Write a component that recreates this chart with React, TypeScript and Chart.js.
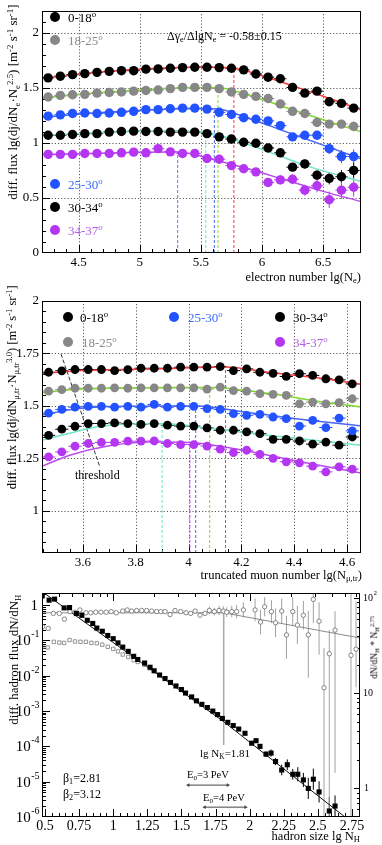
import React, { useEffect, useRef } from "react";
import { Chart, registerables } from "chart.js";

Chart.register(...registerables);

const SERIF = "'Liberation Serif', 'Times New Roman', serif";

// ---------------- Panel 1 : electron number ----------------
const neBins = [4.25, 4.35, 4.45, 4.55, 4.65, 4.75, 4.85, 4.95, 5.05, 5.15, 5.25, 5.35, 5.45, 5.55, 5.65, 5.75, 5.85, 5.95, 6.05, 6.15, 6.25, 6.35, 6.45, 6.55, 6.65, 6.75];
const neFlux0_18 = [1.591, 1.606, 1.62, 1.629, 1.641, 1.65, 1.656, 1.656, 1.67, 1.672, 1.678, 1.684, 1.687, 1.687, 1.684, 1.678, 1.663, 1.626, 1.597, 1.583, 1.504, 1.452, 1.47, 1.374, 1.359, 1.316];
const neFlux18_25 = [1.417, 1.432, 1.437, 1.441, 1.452, 1.458, 1.463, 1.47, 1.476, 1.481, 1.493, 1.504, 1.504, 1.504, 1.493, 1.463, 1.441, 1.423, 1.403, 1.354, 1.287, 1.267, 1.185, 1.171, 1.171, 1.15];
const neFlux25_30 = [1.243, 1.255, 1.267, 1.272, 1.267, 1.272, 1.278, 1.287, 1.302, 1.302, 1.31, 1.316, 1.316, 1.307, 1.278, 1.258, 1.229, 1.215, 1.2, 1.157, 1.055, 1.07, 1.07, 0.948, 0.876, 0.876];
const neFlux30_34 = [1.07, 1.07, 1.076, 1.084, 1.084, 1.098, 1.104, 1.107, 1.104, 1.104, 1.098, 1.098, 1.098, 1.084, 1.055, 1.035, 1.006, 0.997, 0.954, 0.91, 0.78, 0.809, 0.707, 0.678, 0.693, 0.75];
const neFlux34_37 = [0.896, 0.896, 0.896, 0.904, 0.904, 0.904, 0.91, 0.916, 0.91, 0.948, 0.919, 0.904, 0.904, 0.858, 0.852, 0.794, 0.765, 0.737, 0.641, 0.664, 0.67, 0.571, 0.611, 0.484, 0.571, 0.597];
const neErr0_18 = [0.008, 0.008, 0.008, 0.008, 0.008, 0.008, 0.008, 0.008, 0.008, 0.008, 0.008, 0.008, 0.008, 0.008, 0.008, 0.008, 0.01, 0.012, 0.014, 0.016, 0.02, 0.022, 0.025, 0.03, 0.032, 0.035];
const neErr18_25 = [0.008, 0.008, 0.008, 0.008, 0.008, 0.008, 0.008, 0.008, 0.008, 0.008, 0.008, 0.008, 0.008, 0.008, 0.008, 0.01, 0.012, 0.014, 0.016, 0.02, 0.024, 0.027, 0.03, 0.035, 0.04, 0.045];
const neErr25_30 = [0.008, 0.008, 0.008, 0.008, 0.008, 0.008, 0.008, 0.008, 0.008, 0.008, 0.008, 0.008, 0.008, 0.01, 0.012, 0.014, 0.016, 0.018, 0.02, 0.025, 0.03, 0.035, 0.04, 0.05, 0.06, 0.065];
const neErr30_34 = [0.008, 0.008, 0.008, 0.008, 0.008, 0.008, 0.008, 0.008, 0.008, 0.008, 0.008, 0.008, 0.01, 0.012, 0.014, 0.016, 0.018, 0.02, 0.025, 0.03, 0.035, 0.04, 0.045, 0.055, 0.06, 0.07];
const neErr34_37 = [0.008, 0.008, 0.008, 0.008, 0.008, 0.008, 0.008, 0.008, 0.01, 0.012, 0.012, 0.014, 0.016, 0.018, 0.02, 0.022, 0.025, 0.03, 0.035, 0.04, 0.045, 0.05, 0.06, 0.075, 0.08, 0.085];
// fit curves (knots)
const neFitX0_18 = [4.2, 4.5, 4.8, 5.2, 5.5, 5.77, 6.0, 6.3, 6.6, 6.81];
const neFitY0_18 = [1.585, 1.625, 1.655, 1.68, 1.69, 1.678, 1.61, 1.5, 1.385, 1.3];
const neFitX18_25 = [4.2, 4.6, 5.0, 5.4, 5.64, 5.9, 6.2, 6.5, 6.81];
const neFitY18_25 = [1.405, 1.45, 1.48, 1.5, 1.5, 1.43, 1.32, 1.21, 1.1];
const neFitX25_30 = [4.2, 4.6, 5.0, 5.4, 5.61, 5.9, 6.2, 6.5, 6.81];
const neFitY25_30 = [1.232, 1.27, 1.295, 1.31, 1.31, 1.22, 1.1, 0.98, 0.855];
const neFitX30_34 = [4.2, 4.6, 5.0, 5.3, 5.54, 5.8, 6.1, 6.4, 6.81];
const neFitY30_34 = [1.068, 1.09, 1.105, 1.11, 1.095, 1.02, 0.9, 0.78, 0.65];
const neFitX34_37 = [4.2, 4.6, 5.0, 5.31, 5.6, 5.9, 6.2, 6.5, 6.81];
const neFitY34_37 = [0.893, 0.903, 0.915, 0.918, 0.85, 0.76, 0.66, 0.56, 0.468];
const neKnee = [5.77, 5.64, 5.61, 5.54, 5.31];
const neKneeTop = [1.678, 1.504, 1.31, 1.095, 0.918];
const neXTicks = [4.5, 5, 5.5, 6, 6.5];
const neYTicks = [0, 0.5, 1, 1.5, 2];

// ---------------- Panel 2 : truncated muon number ----------------
const nmuBins = [3.47, 3.52, 3.57, 3.62, 3.67, 3.72, 3.77, 3.82, 3.87, 3.92, 3.97, 4.02, 4.07, 4.12, 4.17, 4.22, 4.27, 4.32, 4.37, 4.42, 4.47, 4.52, 4.57, 4.62];
const nmuFlux0_18 = [1.66, 1.667, 1.673, 1.673, 1.673, 1.668, 1.672, 1.679, 1.679, 1.679, 1.684, 1.684, 1.684, 1.687, 1.668, 1.676, 1.66, 1.655, 1.64, 1.653, 1.645, 1.629, 1.624, 1.605];
const nmuFlux18_25 = [1.57, 1.577, 1.584, 1.584, 1.584, 1.586, 1.584, 1.586, 1.586, 1.586, 1.586, 1.586, 1.58, 1.589, 1.573, 1.57, 1.558, 1.555, 1.55, 1.51, 1.518, 1.51, 1.515, 1.534];
const nmuFlux25_30 = [1.466, 1.483, 1.494, 1.498, 1.498, 1.494, 1.498, 1.494, 1.507, 1.494, 1.498, 1.498, 1.487, 1.483, 1.463, 1.455, 1.46, 1.447, 1.439, 1.404, 1.431, 1.397, 1.442, 1.381];
const nmuFlux30_34 = [1.36, 1.389, 1.403, 1.416, 1.416, 1.419, 1.416, 1.412, 1.416, 1.408, 1.404, 1.404, 1.395, 1.384, 1.384, 1.376, 1.368, 1.341, 1.341, 1.333, 1.318, 1.328, 1.313, 1.352];
const nmuFlux34_37 = [1.257, 1.281, 1.308, 1.321, 1.326, 1.326, 1.332, 1.332, 1.333, 1.321, 1.316, 1.316, 1.309, 1.294, 1.278, 1.289, 1.269, 1.25, 1.234, 1.229, 1.213, 1.186, 1.21, 1.199];
const nmuErr = [0.004, 0.004, 0.004, 0.004, 0.004, 0.004, 0.004, 0.004, 0.004, 0.004, 0.004, 0.004, 0.004, 0.005, 0.005, 0.005, 0.006, 0.006, 0.007, 0.008, 0.009, 0.01, 0.012, 0.014];
const nmuFitX0_18 = [3.44, 3.6, 3.9, 4.14, 4.3, 4.5, 4.655];
const nmuFitY0_18 = [1.653, 1.668, 1.677, 1.685, 1.66, 1.632, 1.603];
const nmuFitX18_25 = [3.44, 3.55, 3.7, 3.9, 4.08, 4.3, 4.5, 4.655];
const nmuFitY18_25 = [1.56, 1.577, 1.584, 1.587, 1.588, 1.56, 1.52, 1.494];
const nmuFitX25_30 = [3.44, 3.55, 3.7, 3.9, 4.03, 4.2, 4.4, 4.655];
const nmuFitY25_30 = [1.455, 1.482, 1.497, 1.5, 1.5, 1.473, 1.44, 1.405];
const nmuFitX30_34 = [3.44, 3.55, 3.65, 3.75, 3.9, 4.1, 4.3, 4.655];
const nmuFitY30_34 = [1.335, 1.37, 1.4, 1.413, 1.415, 1.39, 1.36, 1.313];
const nmuFitX34_37 = [3.44, 3.55, 3.7, 3.85, 4.005, 4.2, 4.4, 4.655];
const nmuFitY34_37 = [1.21, 1.265, 1.31, 1.328, 1.326, 1.29, 1.24, 1.18];
const nmuKnee = [4.14, 4.08, 4.027, 3.9, 4.005];
const nmuKneeTop = [1.685, 1.588, 1.5, 1.415, 1.326];
const thresholdX = [3.517, 3.664];
const thresholdY = [1.747, 1.21];
const nmuXTicks = [3.6, 3.8, 4, 4.2, 4.4, 4.6];
const nmuYTicks = [1, 1.25, 1.5, 1.75, 2];

// ---------------- Panel 3 : hadron size ----------------
const hadX = [0.48, 0.53, 0.57, 0.64, 0.68, 0.73, 0.77, 0.81, 0.85, 0.88, 0.92, 0.96, 1.0, 1.035, 1.07, 1.11, 1.15, 1.18, 1.23, 1.27, 1.3, 1.34, 1.38, 1.42, 1.46, 1.5, 1.53, 1.575, 1.61, 1.65, 1.69, 1.73, 1.765, 1.8, 1.84, 1.88, 1.92, 1.966, 2.015, 2.047, 2.076, 2.12, 2.157, 2.19, 2.235, 2.276, 2.316, 2.353, 2.394, 2.43, 2.467, 2.509, 2.584, 2.626];
const hadFluxLg = [0.26, 0.14, 0.17, -0.08, -0.07, -0.24, -0.29, -0.43, -0.52, -0.65, -0.74, -0.86, -0.95, -1.07, -1.19, -1.31, -1.45, -1.54, -1.64, -1.76, -1.86, -1.98, -2.08, -2.19, -2.29, -2.39, -2.49, -2.6, -2.71, -2.81, -2.9, -3.0, -3.1, -3.21, -3.32, -3.41, -3.51, -3.63, -3.91, -3.84, -4.0, -4.22, -4.19, -4.43, -4.67, -4.52, -4.79, -4.79, -4.95, -5.19, -4.93, -5.29, -5.83, -5.69];
const hadErrLg = [0.01, 0.01, 0.01, 0.01, 0.01, 0.01, 0.01, 0.01, 0.01, 0.01, 0.01, 0.01, 0.01, 0.01, 0.01, 0.01, 0.01, 0.01, 0.01, 0.01, 0.01, 0.01, 0.01, 0.01, 0.01, 0.01, 0.01, 0.01, 0.01, 0.01, 0.01, 0.01, 0.01, 0.03, 0.03, 0.03, 0.03, 0.04, 0.06, 0.06, 0.07, 0.08, 0.1, 0.1, 0.15, 0.15, 0.15, 0.2, 0.2, 0.3, 0.3, 0.3, 0.4, 0.3];
const openSqX = [0.48, 0.52, 0.565, 0.605, 0.64, 0.68, 0.72, 0.76, 0.8, 0.84, 0.88, 0.92, 0.96, 1.0, 1.035, 1.07, 1.11, 1.15, 1.18, 1.23, 1.27];
const openSqLg = [-1.19, -1.2, -1.04, -1.06, -1.07, -0.99, -1.03, -1.04, -1.04, -1.07, -1.08, -1.12, -1.18, -1.24, -1.31, -1.4, -1.47, -1.56, -1.61, -1.69, -1.79];
const circX = [0.483, 0.524, 0.561, 0.605, 0.642, 0.683, 0.72, 0.756, 0.8, 0.835, 0.872, 0.91, 0.948, 0.985, 1.022, 1.07, 1.103, 1.135, 1.172, 1.209, 1.245, 1.282, 1.319, 1.349, 1.38, 1.417, 1.453, 1.495, 1.534, 1.568, 1.6, 1.636, 1.673, 1.705, 1.741, 1.776, 1.807, 1.832, 1.869, 1.905, 1.954, 2.04, 2.08, 2.11, 2.16, 2.19, 2.235, 2.27, 2.316, 2.35, 2.394, 2.43, 2.467, 2.509, 2.545, 2.584, 2.626, 2.743, 2.78];
const circVal = [50, 48, 69, 69, 60, 72, 71, 75, 70, 70, 71, 71, 71, 72, 70, 73, 75, 73, 74, 74, 74, 73, 72, 72, 72, 67, 74, 72, 70, 69, 73, 66, 69, 74, 72, 74, 73, 71, 72, 72, 75, 75, 56, 81, 72, 55, 73, 41, 72, 52, 66, 41, 97, 57, 11.4, 26, 46, 25, 29];
const circUpLg = [0.01, 0.01, 0.01, 0.01, 0.01, 0.01, 0.01, 0.01, 0.01, 0.01, 0.01, 0.01, 0.01, 0.01, 0.01, 0.01, 0.01, 0.01, 0.01, 0.01, 0.01, 0.01, 0.01, 0.01, 0.01, 0.02, 0.02, 0.02, 0.02, 0.02, 0.02, 0.02, 0.02, 0.04, 0.04, 0.05, 0.05, 0.05, 0.06, 0.07, 0.08, 0.12, 0.13, 0.1, 0.12, 0.15, 0.13, 0.2, 0.15, 0.2, 0.15, 0.25, 0.2, 0.2, 0.42, 0.25, 0.2, 0.7, 0.5];
const circDnLg = [0.01, 0.01, 0.01, 0.01, 0.01, 0.01, 0.01, 0.01, 0.01, 0.01, 0.01, 0.01, 0.01, 0.01, 0.01, 0.01, 0.01, 0.01, 0.01, 0.01, 0.01, 0.01, 0.01, 0.01, 0.01, 0.02, 0.02, 0.02, 0.02, 0.02, 0.02, 0.02, 0.02, 0.04, 0.04, 0.05, 0.05, 0.05, 0.06, 0.07, 0.08, 0.12, 0.13, 0.1, 0.12, 0.15, 0.13, 0.25, 0.15, 0.2, 0.15, 0.45, 0.25, 0.35, 3, 3, 1.5, 3, 0.4];
const hadFitX = [0.45, 1.81, 2.75];
const hadFitY = [2.9, 5.0e-4, 7.0e-7];
const circFitX = [0.48, 1.81, 2.81];
const circFitY = [70, 70, 38];
const kneeLineX = [1.81, 1.81];
const kneeLineY = [0.6, 1.1e-4];
const e03ArrowX = [1.55, 1.84];
const e03ArrowY = [8e-6, 8e-6];
const e04ArrowX = [1.67, 1.97];
const e04ArrowY = [1.9e-6, 1.9e-6];
const hadXTicks = [0.5, 0.75, 1, 1.25, 1.5, 1.75, 2, 2.25, 2.5, 2.75];
const hadDecades = [-6, -5, -4, -3, -2, -1, 0];
const circDecades = [0, 1, 2];
const topAxisN = [3, 4, 5, 6, 7, 8, 9, 10, 20, 30, 40, 50, 60, 70, 80, 90, 100, 200, 300, 400, 500, 600];

// ---------------- helpers ----------------
function range(a: number, b: number, step: number) {
  const out: number[] = [];
  for (let v = a; v <= b + 1e-9; v += step) out.push(+v.toFixed(4));
  return out;
}
function logMinor(d0: number, d1: number) {
  const out: number[] = [];
  for (let d = d0; d <= d1; d++) for (let m = 1; m < 10; m++) out.push(m * Math.pow(10, d));
  return out;
}
const xy = (xs: number[], ys: number[]) => xs.map((x, i) => ({ x, y: ys[i] }));

function pointSet(xs: number[], ys: number[], errs: number[], color: string, radius: number, errX: number) {
  return {
    data: xy(xs, ys),
    backgroundColor: color,
    borderColor: color,
    borderWidth: 0,
    pointRadius: radius,
    showLine: false,
    errLo: ys.map((v, i) => v - errs[i]),
    errHi: ys.map((v, i) => v + errs[i]),
    errX,
  };
}
function curve(xs: number[], ys: number[], color: string, width = 1.5, dash: number[] = [], smooth = true, extra: any = {}) {
  return {
    data: xy(xs, ys),
    showLine: true,
    borderColor: color,
    backgroundColor: color,
    borderWidth: width,
    borderDash: dash,
    pointRadius: 0,
    fill: false,
    cubicInterpolationMode: smooth ? "monotone" : "default",
    tension: 0,
    ...extra,
  };
}

const errorBars = {
  id: "errorBars",
  beforeDatasetsDraw(chart: any) {
    const { ctx, chartArea: a } = chart;
    ctx.save();
    ctx.beginPath();
    ctx.rect(a.left, a.top, a.right - a.left, a.bottom - a.top);
    ctx.clip();
    chart.data.datasets.forEach((ds: any, i: number) => {
      if (!ds.errLo && !ds.errX) return;
      const meta = chart.getDatasetMeta(i);
      const X = chart.scales[meta.xAxisID];
      const Y = chart.scales[meta.yAxisID];
      ctx.strokeStyle = ds.errColor || ds.backgroundColor;
      ctx.lineWidth = ds.errWidth || 1;
      ds.data.forEach((p: any, j: number) => {
        const px = X.getPixelForValue(p.x);
        const py = Y.getPixelForValue(p.y);
        ctx.beginPath();
        if (ds.errLo) {
          ctx.moveTo(px, Y.getPixelForValue(ds.errLo[j]));
          ctx.lineTo(px, Y.getPixelForValue(ds.errHi[j]));
        }
        if (ds.errX) {
          ctx.moveTo(X.getPixelForValue(p.x - ds.errX), py);
          ctx.lineTo(X.getPixelForValue(p.x + ds.errX), py);
        }
        ctx.stroke();
      });
    });
    ctx.restore();
  },
};

function makeFrame(cfg: any) {
  return {
    id: "frame",
    beforeDatasetsDraw(chart: any) {
      const { ctx, chartArea: a, scales } = chart;
      const X = scales.x;
      const Y = scales.y;
      ctx.save();
      ctx.beginPath();
      ctx.rect(a.left, a.top, a.right - a.left, a.bottom - a.top);
      ctx.clip();
      if (cfg.grid) {
        ctx.strokeStyle = "#333";
        ctx.lineWidth = 0.8;
        ctx.setLineDash([1.2, 2]);
        cfg.xMajor.forEach((v: number) => {
          const p = Math.round(X.getPixelForValue(v)) + 0.5;
          ctx.beginPath(); ctx.moveTo(p, a.top); ctx.lineTo(p, a.bottom); ctx.stroke();
        });
        cfg.yMajor.forEach((v: number) => {
          const p = Math.round(Y.getPixelForValue(v)) + 0.5;
          ctx.beginPath(); ctx.moveTo(a.left, p); ctx.lineTo(a.right, p); ctx.stroke();
        });
        ctx.setLineDash([]);
      }
      ctx.strokeStyle = "#000";
      ctx.lineWidth = 1;
      const hx = (vals: number[], len: number, top: boolean, scale: any) => {
        vals.forEach((v) => {
          const p = scale.getPixelForValue(v);
          if (p < a.left - 0.5 || p > a.right + 0.5) return;
          const q = Math.round(p) + 0.5;
          ctx.beginPath();
          if (top) { ctx.moveTo(q, a.top); ctx.lineTo(q, a.top + len); }
          else { ctx.moveTo(q, a.bottom); ctx.lineTo(q, a.bottom - len); }
          ctx.stroke();
        });
      };
      const vy = (vals: number[], len: number, right: boolean, scale: any) => {
        vals.forEach((v) => {
          const p = scale.getPixelForValue(v);
          if (p < a.top - 0.5 || p > a.bottom + 0.5) return;
          const q = Math.round(p) + 0.5;
          ctx.beginPath();
          if (right) { ctx.moveTo(a.right, q); ctx.lineTo(a.right - len, q); }
          else { ctx.moveTo(a.left, q); ctx.lineTo(a.left + len, q); }
          ctx.stroke();
        });
      };
      hx(cfg.xMajor, cfg.major, false, X);
      hx(cfg.xMinor, cfg.minor, false, X);
      vy(cfg.yMajor, cfg.major, false, Y);
      vy(cfg.yMinor, cfg.minor, false, Y);
      if (cfg.y2Major) {
        vy(cfg.y2Major, cfg.y2major, true, scales.y2);
        vy(cfg.y2Minor, cfg.y2minor, true, scales.y2);
      }
      if (cfg.xTopMajor) {
        hx(cfg.xTopMajor, cfg.major, true, X);
        hx(cfg.xTopMinor, cfg.minor, true, X);
      }
      ctx.restore();
    },
    afterDatasetsDraw(chart: any) {
      const { ctx, chartArea: a } = chart;
      ctx.save();
      ctx.strokeStyle = "#000";
      ctx.lineWidth = 1;
      ctx.strokeRect(Math.round(a.left) + 0.5, Math.round(a.top) + 0.5, Math.round(a.right - a.left) - 1, Math.round(a.bottom - a.top) - 1);
      ctx.restore();
    },
  };
}

function linAxis(min: number, max: number, ticks: number[], fit: (s: any) => void, size = 13, padding = 3) {
  return {
    type: "linear",
    min,
    max,
    grid: { display: false, drawTicks: false },
    border: { display: false },
    afterBuildTicks: (s: any) => {
      s.ticks = ticks.map((v) => ({ value: v }));
    },
    afterFit: fit,
    ticks: {
      font: { family: SERIF, size },
      color: "#000",
      padding,
      autoSkip: false,
      maxRotation: 0,
      callback: (v: any) => String(v),
    },
  };
}

const baseOpts = (padding: any) => ({
  responsive: false,
  animation: false,
  events: [],
  layout: { padding },
  plugins: { legend: { display: false }, tooltip: { enabled: false } },
});

// ---------------- colours ----------------
const C_BLACK = "#000000";
const C_GRAY = "#878787";
const C_BLUE = "#2352ff";
const C_MAG = "#b536f0";
const L_RED = "#ff3b3b";
const L_GREEN = "#7ddc2c";
const L_BLUE = "#4a66f5";
const L_CYAN = "#6fe3c9";
const L_MAG = "#b84aee";

function config1(): any {
  const pts = [
    pointSet(neBins, neFlux0_18, neErr0_18, C_BLACK, 4.7, 0.05),
    pointSet(neBins, neFlux18_25, neErr18_25, C_GRAY, 4.7, 0.05),
    pointSet(neBins, neFlux25_30, neErr25_30, C_BLUE, 4.7, 0.05),
    pointSet(neBins, neFlux30_34, neErr30_34, C_BLACK, 4.7, 0.05),
    pointSet(neBins, neFlux34_37, neErr34_37, C_MAG, 4.7, 0.05),
  ];
  const fits = [
    curve(neFitX0_18, neFitY0_18, L_RED),
    curve(neFitX18_25, neFitY18_25, L_GREEN),
    curve(neFitX25_30, neFitY25_30, L_BLUE),
    curve(neFitX30_34, neFitY30_34, L_CYAN),
    curve(neFitX34_37, neFitY34_37, L_MAG),
  ];
  const kneeCols = [L_RED, L_GREEN, L_BLUE, L_CYAN, L_MAG];
  const knees = neKnee.map((k, i) => curve([k, k], [0, neKneeTop[i]], kneeCols[i], 1, [3, 2], false));
  return {
    type: "scatter",
    data: { datasets: [...pts, ...fits, ...knees] },
    options: {
      ...baseOpts({ top: 1, right: 21, left: 0, bottom: 0 }),
      scales: {
        x: linAxis(4.2, 6.81, neXTicks, (s: any) => { s.height = 37; }, 13, 2),
        y: linAxis(0, 2.2, neYTicks, (s: any) => { s.width = 42; }, 13, 3),
      },
    },
    plugins: [
      errorBars,
      makeFrame({ grid: true, xMajor: neXTicks, xMinor: range(4.2, 6.8, 0.1), yMajor: neYTicks, yMinor: range(0, 2.2, 0.1), major: 8, minor: 4 }),
    ],
  };
}

function config2(): any {
  const pts = [
    pointSet(nmuBins, nmuFlux0_18, nmuErr, C_BLACK, 4.4, 0.025),
    pointSet(nmuBins, nmuFlux18_25, nmuErr, C_GRAY, 4.4, 0.025),
    pointSet(nmuBins, nmuFlux25_30, nmuErr, C_BLUE, 4.4, 0.025),
    pointSet(nmuBins, nmuFlux30_34, nmuErr, C_BLACK, 4.4, 0.025),
    pointSet(nmuBins, nmuFlux34_37, nmuErr, C_MAG, 4.4, 0.025),
  ];
  const fits = [
    curve(nmuFitX0_18, nmuFitY0_18, L_RED),
    curve(nmuFitX18_25, nmuFitY18_25, L_GREEN),
    curve(nmuFitX25_30, nmuFitY25_30, L_BLUE),
    curve(nmuFitX30_34, nmuFitY30_34, L_CYAN),
    curve(nmuFitX34_37, nmuFitY34_37, L_MAG),
  ];
  const kneeCols = [L_RED, L_GREEN, L_BLUE, L_CYAN, L_MAG];
  const knees = nmuKnee.map((k, i) => curve([k, k], [0.8, nmuKneeTop[i]], kneeCols[i], 1, [3, 2], false));
  const thr = curve(thresholdX, thresholdY, "#333", 1, [4, 2], false);
  return {
    type: "scatter",
    data: { datasets: [...pts, ...fits, ...knees, thr] },
    options: {
      ...baseOpts({ top: 10, right: 21, left: 0, bottom: 0 }),
      scales: {
        x: linAxis(3.445, 4.653, nmuXTicks, (s: any) => { s.height = 27; }, 13, 2),
        y: linAxis(0.8, 2.0, nmuYTicks, (s: any) => { s.width = 42; }, 13, 3),
      },
    },
    plugins: [
      errorBars,
      makeFrame({ grid: true, xMajor: nmuXTicks, xMinor: range(3.45, 4.65, 0.05), yMajor: nmuYTicks, yMinor: range(0.8, 2.0, 0.05), major: 8, minor: 4 }),
    ],
  };
}

function drawPow(ctx: any, base: string, sup: string, xr: number, y: number, bs: number, ss: number, align: string) {
  ctx.font = `${bs}px ${SERIF}`;
  const wb = ctx.measureText(base).width;
  ctx.font = `${ss}px ${SERIF}`;
  const ws = sup ? ctx.measureText(sup).width : 0;
  const x0 = align === "right" ? xr - wb - ws : xr;
  ctx.textAlign = "left";
  ctx.textBaseline = "middle";
  ctx.font = `${bs}px ${SERIF}`;
  ctx.fillText(base, x0, y);
  if (sup) {
    ctx.font = `${ss}px ${SERIF}`;
    ctx.fillText(sup, x0 + wb + 0.5, y - bs * 0.45);
  }
}

const logLabels = {
  id: "logLabels",
  afterDraw(chart: any) {
    const { ctx } = chart;
    const Y = chart.scales.y;
    const Y2 = chart.scales.y2;
    ctx.save();
    ctx.fillStyle = "#000";
    hadDecades.forEach((d) => {
      const py = Y.getPixelForValue(Math.pow(10, d));
      if (d === 0) drawPow(ctx, "1", "", 38, py + 1, 15, 10, "right");
      else drawPow(ctx, "10", String(d), 39, py + 1, 15, 10, "right");
    });
    circDecades.forEach((d) => {
      const py = Y2.getPixelForValue(Math.pow(10, d));
      if (d === 0) drawPow(ctx, "1", "", 364, py, 10, 7, "left");
      else if (d === 1) drawPow(ctx, "10", "", 363, py, 10, 7, "left");
      else drawPow(ctx, "10", String(d), 363, py, 10, 7, "left");
    });
    ctx.restore();
  },
};

function config3(): any {
  const hadVals = hadFluxLg.map((v) => Math.pow(10, v));
  const filled = {
    data: xy(hadX, hadVals),
    yAxisID: "y",
    pointStyle: "rect",
    pointRadius: 3.6,
    backgroundColor: "#000",
    borderColor: "#000",
    borderWidth: 0,
    showLine: false,
    errLo: hadFluxLg.map((v, i) => Math.pow(10, v - hadErrLg[i])),
    errHi: hadFluxLg.map((v, i) => Math.pow(10, v + hadErrLg[i])),
    errColor: "#000",
  };
  const openSq = {
    data: xy(openSqX, openSqLg.map((v) => Math.pow(10, v))),
    yAxisID: "y",
    pointStyle: "rect",
    pointRadius: 2.4,
    backgroundColor: "rgba(255,255,255,0)",
    borderColor: "#7a7a7a",
    borderWidth: 0.8,
    showLine: false,
  };
  const circles = {
    data: xy(circX, circVal),
    yAxisID: "y2",
    pointStyle: "circle",
    pointRadius: 2.2,
    backgroundColor: "#fff",
    borderColor: "#6a6a6a",
    borderWidth: 0.8,
    showLine: false,
    errLo: circVal.map((v, i) => v * Math.pow(10, -circDnLg[i])),
    errHi: circVal.map((v, i) => v * Math.pow(10, circUpLg[i])),
    errColor: "#a0a0a0",
  };
  const hadFit = { ...curve(hadFitX, hadFitY, "#111", 1, [], false), yAxisID: "y" };
  const circFit = { ...curve(circFitX, circFitY, "#8a8a8a", 1, [], false), yAxisID: "y2" };
  const kneeLine = { ...curve(kneeLineX, kneeLineY, "#a8a8a8", 1.5, [], false), yAxisID: "y" };
  const arrow = (xs: number[], ys: number[]) => ({
    ...curve(xs, ys, "#444", 1, [], false),
    yAxisID: "y",
    pointStyle: "triangle",
    pointRadius: 2.2,
    pointRotation: [270, 90],
    pointBackgroundColor: "#444",
    pointBorderWidth: 0,
  });
  return {
    type: "scatter",
    data: { datasets: [filled, openSq, circles, hadFit, circFit, kneeLine, arrow(e03ArrowX, e03ArrowY), arrow(e04ArrowX, e04ArrowY)] },
    options: {
      ...baseOpts({ top: 8, right: 0, left: 0, bottom: 0 }),
      scales: {
        x: linAxis(0.478, 2.809, hadXTicks, (s: any) => { s.height = 28; }, 14, 1),
        y: {
          type: "logarithmic",
          position: "left",
          min: 1e-6,
          max: 2.2,
          grid: { display: false, drawTicks: false },
          border: { display: false },
          ticks: { display: false },
          afterFit: (s: any) => { s.width = 42; },
        },
        y2: {
          type: "logarithmic",
          position: "right",
          min: 0.5,
          max: 113,
          grid: { display: false, drawTicks: false },
          border: { display: false },
          ticks: { display: false },
          afterFit: (s: any) => { s.width = 22; },
        },
      },
    },
    plugins: [
      errorBars,
      makeFrame({
        grid: false,
        xMajor: hadXTicks,
        xMinor: range(0.45, 2.8, 0.05),
        yMajor: hadDecades.map((d) => Math.pow(10, d)),
        yMinor: logMinor(-6, 0),
        y2Major: circDecades.map((d) => Math.pow(10, d)),
        y2Minor: logMinor(-1, 2),
        y2major: 6,
        y2minor: 3,
        xTopMajor: topAxisN.filter((n) => n === 10 || n === 100).map((n) => Math.log10(n)),
        xTopMinor: topAxisN.map((n) => Math.log10(n)),
        major: 8,
        minor: 4,
      }),
      logLabels,
    ],
  };
}

// ---------------- rich text ----------------
function rich(s: string) {
  const out: any[] = [];
  let buf = "";
  let i = 0;
  let k = 0;
  while (i < s.length) {
    const c = s[i];
    if ((c === "_" || c === "^") && s[i + 1] === "{") {
      if (buf) { out.push(buf); buf = ""; }
      let depth = 1;
      let j = i + 2;
      while (j < s.length && depth) {
        if (s[j] === "{") depth++;
        else if (s[j] === "}") depth--;
        j++;
      }
      const inner = s.slice(i + 2, j - 1);
      out.push(
        <span key={k++} style={{ fontSize: "0.68em", position: "relative", top: c === "_" ? "0.3em" : "-0.5em" }}>
          {inner}
        </span>
      );
      i = j;
    } else {
      buf += c;
      i++;
    }
  }
  if (buf) out.push(buf);
  return out;
}

function Label({ x, y, text, size = 12, color = "#000", align = "left" }: any) {
  const style: any = {
    position: "absolute",
    top: y - size * 0.5,
    fontSize: size,
    lineHeight: 1,
    color,
    whiteSpace: "nowrap",
    fontFamily: SERIF,
  };
  if (align === "left") style.left = x;
  else style.right = 382 - x;
  return <div style={style}>{rich(text)}</div>;
}

function VLabel({ x, yTop, text, size = 12, color = "#000" }: any) {
  const W = 320;
  return (
    <div
      style={{
        position: "absolute",
        left: x - W / 2,
        top: yTop + W / 2 - size * 0.5,
        width: W,
        textAlign: "right",
        fontSize: size,
        lineHeight: 1,
        transform: "rotate(-90deg)",
        whiteSpace: "nowrap",
        fontFamily: SERIF,
        color,
      }}
    >
      {rich(text)}
    </div>
  );
}

function Dot({ x, y, color, r = 5 }: any) {
  return <div style={{ position: "absolute", left: x - r, top: y - r, width: 2 * r, height: 2 * r, borderRadius: "50%", background: color }} />;
}

export default function App() {
  const r1 = useRef<HTMLCanvasElement>(null);
  const r2 = useRef<HTMLCanvasElement>(null);
  const r3 = useRef<HTMLCanvasElement>(null);
  useEffect(() => {
    const charts = [
      new Chart(r1.current as any, config1()),
      new Chart(r2.current as any, config2()),
      new Chart(r3.current as any, config3()),
    ];
    return () => charts.forEach((c) => c.destroy());
  }, []);
  return (
    <div style={{ position: "absolute", left: 0, top: 0, width: 382, height: 845, background: "#fff", fontFamily: SERIF, overflow: "hidden" }}>
      <canvas ref={r1} width={382} height={290} style={{ position: "absolute", left: 0, top: 0 }} />
      <canvas ref={r2} width={382} height={290} style={{ position: "absolute", left: 0, top: 290 }} />
      <canvas ref={r3} width={382} height={260} style={{ position: "absolute", left: 0, top: 585 }} />

      {/* Panel 1 */}
      <VLabel x={12} yTop={4} size={13} text="diff. flux lg(dj/dN_{e}·N_{e}^{2.5}) [m^{-2} s^{-1} sr^{-1}]" />
      <Label x={361} y={277} size={12.5} align="right" text="electron number lg(N_{e})" />
      <Label x={167} y={36} size={12} text="Δγ_{e}/ΔlgN_{e} = -0.58±0.15" />
      <Dot x={55} y={17} color={C_BLACK} />
      <Label x={68} y={17} size={13} text="0-18^{o}" />
      <Dot x={55} y={40} color={C_GRAY} />
      <Label x={68} y={40} size={13} color="#8a8a8a" text="18-25^{o}" />
      <Dot x={55} y={184} color={C_BLUE} />
      <Label x={68} y={184} size={13} color="#3a6bff" text="25-30^{o}" />
      <Dot x={55} y={207} color={C_BLACK} />
      <Label x={68} y={207} size={13} text="30-34^{o}" />
      <Dot x={55} y={230} color={C_MAG} />
      <Label x={68} y={230} size={13} color="#b05ee8" text="34-37^{o}" />

      {/* Panel 2 */}
      <VLabel x={12} yTop={285} size={12.5} text="diff. flux lg(dj/dN_{μ,tr}·N_{μ,tr}^{3.0}) [m^{-2} s^{-1} sr^{-1}]" />
      <Label x={362} y={575} size={12.5} align="right" text="truncated muon number lg(N_{μ,tr})" />
      <Label x={75} y={475} size={12} text="threshold" />
      <Dot x={68} y={317} color={C_BLACK} />
      <Label x={80} y={317} size={13} text="0-18^{o}" />
      <Dot x={68} y={342} color={C_GRAY} />
      <Label x={82} y={342} size={13} color="#8a8a8a" text="18-25^{o}" />
      <Dot x={174} y={317} color={C_BLUE} />
      <Label x={188} y={317} size={13} color="#3a6bff" text="25-30^{o}" />
      <Dot x={280} y={317} color={C_BLACK} />
      <Label x={293} y={317} size={13} text="30-34^{o}" />
      <Dot x={280} y={342} color={C_MAG} />
      <Label x={293} y={342} size={13} color="#b05ee8" text="34-37^{o}" />

      {/* Panel 3 */}
      <VLabel x={13} yTop={594} size={13} text="diff. hadron flux dN/dN_{H}" />
      <VLabel x={375} yTop={616} size={9.5} text="dN/dN_{H} * N_{H}^{2.75}" />
      <Label x={360} y={836} size={12.5} align="right" text="hadron size lg N_{H}" />
      <Label x={63} y={778} size={12} text="β_{1}=2.81" />
      <Label x={63} y={794} size={12} text="β_{2}=3.12" />
      <Label x={200} y={753} size={11} text="lg N_{K}=1.81" />
      <Label x={187} y={775} size={10.5} text="E_{0}=3 PeV" />
      <Label x={203} y={798} size={10.5} text="E_{0}=4 PeV" />
    </div>
  );
}
